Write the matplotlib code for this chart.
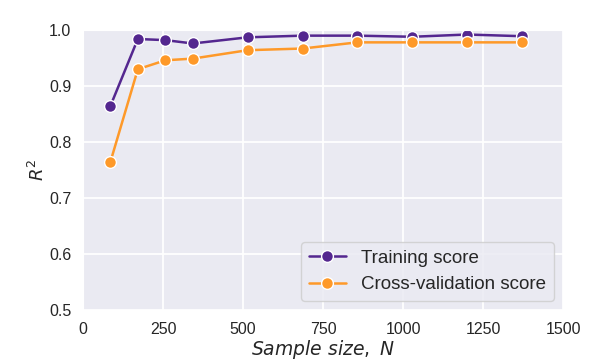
import matplotlib
matplotlib.use("Agg")
import matplotlib.pyplot as plt
import seaborn as sns

# learning curve data
sample_sizes = [85, 171, 257, 343, 514, 686, 857, 1029, 1200, 1372]
train_scores = [0.864, 0.984, 0.982, 0.976, 0.987, 0.990, 0.990, 0.988, 0.992, 0.989]
cv_scores = [0.764, 0.930, 0.946, 0.949, 0.964, 0.967, 0.978, 0.978, 0.978, 0.978]

sns.set_style("darkgrid")
plt.rcParams['font.family'] = ['Liberation Sans', 'DejaVu Sans']

fig, ax = plt.subplots(figsize=(5.98, 3.62), dpi=100)
fig.subplots_adjust(left=0.139, right=0.9415, top=0.917, bottom=0.1436)

ax.plot(sample_sizes, train_scores, '-o', color='#54278f', lw=1.8,
        markersize=8.5, markeredgecolor='white', markeredgewidth=1,
        label='Training score')
ax.plot(sample_sizes, cv_scores, '-o', color='#fe9929', lw=1.8,
        markersize=8.5, markeredgecolor='white', markeredgewidth=1,
        label='Cross-validation score')

ax.set_xlim(0, 1500)
ax.set_ylim(0.5, 1.0)
ax.set_xticks([0, 250, 500, 750, 1000, 1250, 1500])
ax.set_yticks([0.5, 0.6, 0.7, 0.8, 0.9, 1.0])
ax.tick_params(labelsize=11.5, pad=5)
ax.grid(lw=1.3)

ax.set_xlabel(r'$Sample\ size,\ N$', fontsize=13.5, labelpad=1)
ax.set_ylabel(r'$R^2$', fontsize=13, labelpad=1)

ax.legend(loc='lower right', fontsize=13.5, frameon=True)

fig.savefig('out.png', dpi=100)
